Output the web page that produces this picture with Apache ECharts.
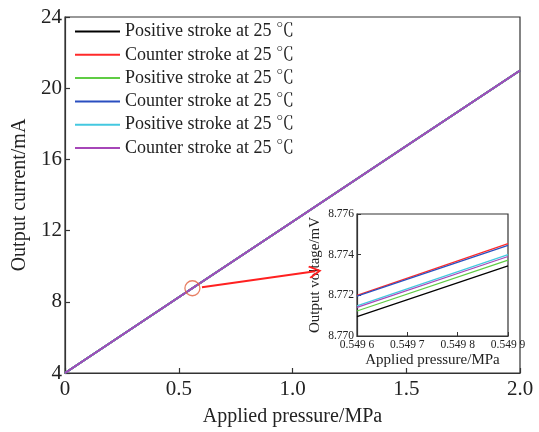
<!DOCTYPE html>
<html>
<head>
<meta charset="utf-8">
<script src="https://cdn.jsdelivr.net/npm/echarts@6/dist/echarts.min.js"></script>
<style>html,body{margin:0;padding:0;background:#fff}#c{width:539px;height:432px}</style>
</head>
<body>
<div id="c"></div>
<script>
// ---- data ----
const legendLabels = [
  'Positive stroke at 25 ℃',
  'Counter stroke at 25 ℃',
  'Positive stroke at 25 ℃',
  'Counter stroke at 25 ℃',
  'Positive stroke at 25 ℃',
  'Counter stroke at 25 ℃'
];
const seriesColors = ['#000000', '#ff2a2a', '#5fcc44', '#2a4fc0', '#44c8e0', '#a646b8'];

// main plot (all six curves overlap)
const mainPressure = [0, 0.5, 1.0, 1.5, 2.0];
const mainCurrentPos1 = [4.0, 8.25, 12.5, 16.75, 21.0];
const mainCurrentCnt1 = [4.0, 8.25, 12.5, 16.75, 21.0];
const mainCurrentPos2 = [4.0, 8.25, 12.5, 16.75, 21.0];
const mainCurrentCnt2 = [4.0, 8.25, 12.5, 16.75, 21.0];
const mainCurrentPos3 = [4.0, 8.25, 12.5, 16.75, 21.0];
const mainCurrentCnt3 = [4.0, 8.25, 12.5, 16.75, 21.0];

// inset (zoomed)
const insetPressure = [0.5496, 0.5499];
const insetVoltPos1 = [8.77095, 8.77345];
const insetVoltCnt1 = [8.77200, 8.77454];
const insetVoltPos2 = [8.77123, 8.77373];
const insetVoltCnt2 = [8.77196, 8.77446];
const insetVoltPos3 = [8.77148, 8.77400];
const insetVoltCnt3 = [8.77141, 8.77391];

// tick labels
const mainXTicks = ['0', '0.5', '1.0', '1.5', '2.0'];
const mainYTicks = ['4', '8', '12', '16', '20', '24'];
const insetXTicks = ['0.549 6', '0.549 7', '0.549 8', '0.549 9'];
const insetYTicks = ['8.770', '8.772', '8.774', '8.776'];

// annotation (circle on the curve and arrow to inset), data coords
const circlePoint = [0.56, 8.76];
const arrowFrom = [0.602, 8.82];
const arrowTo = [1.10, 9.71];

// ---- chart ----
const FONT = "'Liberation Serif', 'Times New Roman', 'Noto Serif CJK SC', 'Noto Sans CJK SC', serif";
const mainSets = [mainCurrentPos1, mainCurrentCnt1, mainCurrentPos2, mainCurrentCnt2, mainCurrentPos3, mainCurrentCnt3];
const insetSets = [insetVoltPos1, insetVoltCnt1, insetVoltPos2, insetVoltCnt2, insetVoltPos3, insetVoltCnt3];
const names = legendLabels.map((_, i) => 's' + i);

const series = [];
mainSets.forEach((vals, i) => {
  series.push({
    name: names[i], type: 'line', xAxisIndex: 0, yAxisIndex: 0,
    data: mainPressure.map((x, k) => [x, vals[k]]),
    symbol: 'none', color: seriesColors[i],
    lineStyle: { width: 1.8, color: seriesColors[i] }, z: 2 + i
  });
});
insetSets.forEach((vals, i) => {
  series.push({
    name: names[i], type: 'line', xAxisIndex: 1, yAxisIndex: 1,
    data: insetPressure.map((x, k) => [x, vals[k]]),
    symbol: 'none', color: seriesColors[i],
    lineStyle: { width: 1.2, color: seriesColors[i] }, z: 12
  });
});
series.push({
  type: 'scatter', xAxisIndex: 0, yAxisIndex: 0,
  data: [circlePoint], symbol: 'circle', symbolSize: 15,
  itemStyle: { color: 'rgba(0,0,0,0)', borderColor: '#e2603e', borderWidth: 1.3 },
  silent: true, z: 20
});
series.push({
  type: 'lines', coordinateSystem: 'cartesian2d', xAxisIndex: 0, yAxisIndex: 0,
  data: [{ coords: [arrowFrom, arrowTo] }],
  symbol: ['none', 'path://M5,0 L10,9 L8.8,10 L5,3 L1.2,10 L0,9 Z'],
  symbolSize: [16, 13],
  lineStyle: { color: '#ff2020', width: 2, opacity: 1, curveness: 0 },
  itemStyle: { color: '#ff2020' },
  silent: true, z: 20
});

const axisCommon = {
  type: 'value',
  splitLine: { show: false },
  axisLine: { show: true, lineStyle: { color: '#333', width: 1.2 } },
  nameLocation: 'middle'
};

const option = {
  animation: false,
  backgroundColor: '#ffffff',
  textStyle: { fontFamily: FONT },
  legend: {
    orient: 'vertical', left: 75, top: 20, padding: 0, itemGap: 0.3,
    itemWidth: 45, itemHeight: 2, itemTextGap: 5, icon: 'rect',
    data: names,
    formatter: n => legendLabels[names.indexOf(n)],
    textStyle: { fontFamily: FONT, fontSize: 18, color: '#222', lineHeight: 23 },
    selectedMode: false
  },
  grid: [
    { left: 65, top: 17, right: 19, bottom: 54, show: true, borderColor: '#333', borderWidth: 1.2, backgroundColor: 'rgba(0,0,0,0)' },
    { left: 357, top: 214, width: 151, height: 122, show: true, borderColor: '#333', borderWidth: 1.2, backgroundColor: '#ffffff' }
  ],
  xAxis: [
    Object.assign({}, axisCommon, {
      gridIndex: 0, min: 0, max: 2, interval: 0.5,
      name: 'Applied pressure/MPa', nameGap: 34,
      nameTextStyle: { fontFamily: FONT, fontSize: 20, color: '#222' },
      axisTick: { show: true, inside: true, length: 5, lineStyle: { color: '#333', width: 1.2 } },
      axisLabel: { fontFamily: FONT, fontSize: 21, color: '#222', margin: 6,
        formatter: v => mainXTicks[Math.round(v / 0.5)] }
    }),
    Object.assign({}, axisCommon, {
      gridIndex: 1, min: 0.5496, max: 0.5499, interval: 0.0001,
      name: 'Applied pressure/MPa', nameGap: 17,
      nameTextStyle: { fontFamily: FONT, fontSize: 15, color: '#222' },
      axisTick: { show: true, inside: true, length: 4, lineStyle: { color: '#333' } },
      axisLabel: { fontFamily: FONT, fontSize: 11.5, color: '#222', margin: 3,
        formatter: v => insetXTicks[Math.round((v - 0.5496) * 10000)] }
    })
  ],
  yAxis: [
    Object.assign({}, axisCommon, {
      gridIndex: 0, min: 4, max: 24, interval: 4,
      name: 'Output current/mA', nameGap: 35,
      nameTextStyle: { fontFamily: FONT, fontSize: 20, color: '#222' },
      axisTick: { show: true, inside: true, length: 5, lineStyle: { color: '#333', width: 1.2 } },
      axisLabel: { fontFamily: FONT, fontSize: 21, color: '#222', margin: 3,
        formatter: v => mainYTicks[Math.round((v - 4) / 4)] }
    }),
    Object.assign({}, axisCommon, {
      gridIndex: 1, min: 8.770, max: 8.776, interval: 0.002,
      name: 'Output voltage/mV', nameGap: 34,
      nameTextStyle: { fontFamily: FONT, fontSize: 15, color: '#222' },
      axisTick: { show: true, inside: true, length: 4, lineStyle: { color: '#333' } },
      axisLabel: { fontFamily: FONT, fontSize: 11.5, color: '#222', margin: 3,
        formatter: v => insetYTicks[Math.round((v - 8.770) / 0.002)] }
    })
  ],
  series: series
};

const chart = echarts.init(document.getElementById('c'), null, { renderer: 'canvas' });
chart.setOption(option);
</script>
</body>
</html>
